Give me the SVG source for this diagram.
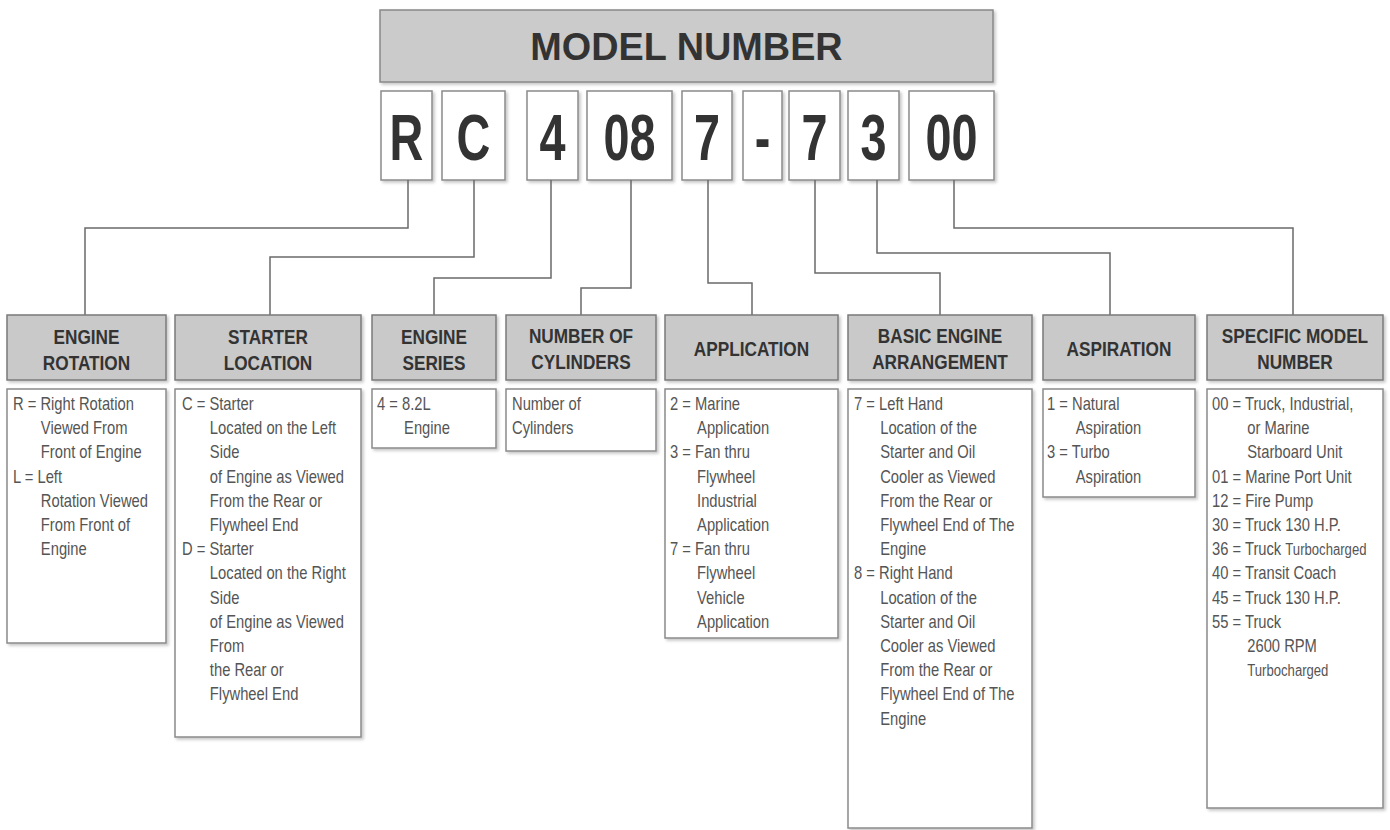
<svg xmlns="http://www.w3.org/2000/svg" width="1390" height="830" viewBox="0 0 1390 830">
<style>
.hdr{fill:#c9c9c9;stroke:#7a7a7a;stroke-width:1.5}
.body{fill:#fff;stroke:#8a8a8a;stroke-width:1.5}
.lbox{fill:#fff;stroke:#8a8a8a;stroke-width:1.5}
.ht{font-family:'Liberation Sans',Arial,sans-serif;font-weight:bold;font-size:21px;fill:#333;text-anchor:middle}
.bt{font-family:'Liberation Sans',Arial,sans-serif;font-size:18px;fill:#555}
.lt{font-family:'Liberation Sans',Arial,sans-serif;font-weight:bold;font-size:65px;fill:#333;text-anchor:middle}
.mt{font-family:'Liberation Sans',Arial,sans-serif;font-weight:bold;font-size:39px;fill:#333;text-anchor:middle}
.conn{fill:none;stroke:#6a6a6a;stroke-width:1.5}
</style>
<defs>
<filter id="sh" x="-10%" y="-10%" width="130%" height="130%">
<feDropShadow dx="2" dy="2" stdDeviation="1.5" flood-color="#000" flood-opacity="0.22"/>
</filter>
</defs>
<rect width="1390" height="830" fill="#fff"/>

<g id="model-number">
<rect class="hdr" x="380" y="10" width="613" height="72" filter="url(#sh)" style="fill:#cbcbcb;stroke:#888"/>
<text class="mt" transform="translate(686.5,60) scale(0.97,1)" x="0" y="0">MODEL NUMBER</text>
</g>

<g id="letters">
<g id="l-R"><rect class="lbox" x="381" y="91" width="51" height="89" filter="url(#sh)"/><text class="lt" transform="translate(406.5,160) scale(0.72,1)">R</text></g>
<g id="l-C"><rect class="lbox" x="442" y="91" width="63" height="89" filter="url(#sh)"/><text class="lt" transform="translate(473.5,160) scale(0.72,1)">C</text></g>
<g id="l-4"><rect class="lbox" x="527" y="91" width="51" height="89" filter="url(#sh)"/><text class="lt" transform="translate(552.5,160) scale(0.72,1)">4</text></g>
<g id="l-08"><rect class="lbox" x="587" y="91" width="85" height="89" filter="url(#sh)"/><text class="lt" transform="translate(629.5,160) scale(0.72,1)">08</text></g>
<g id="l-7a"><rect class="lbox" x="682" y="91" width="50" height="89" filter="url(#sh)"/><text class="lt" transform="translate(707,160) scale(0.72,1)">7</text></g>
<g id="l-dash"><rect class="lbox" x="743" y="91" width="39" height="89" filter="url(#sh)"/><text class="lt" transform="translate(762.5,160) scale(0.72,1)">-</text></g>
<g id="l-7b"><rect class="lbox" x="789" y="91" width="51" height="89" filter="url(#sh)"/><text class="lt" transform="translate(814.5,160) scale(0.72,1)">7</text></g>
<g id="l-3"><rect class="lbox" x="848" y="91" width="51" height="89" filter="url(#sh)"/><text class="lt" transform="translate(873.5,160) scale(0.72,1)">3</text></g>
<g id="l-00"><rect class="lbox" x="909" y="91" width="85" height="89" filter="url(#sh)"/><text class="lt" transform="translate(951.5,160) scale(0.72,1)">00</text></g>
</g>

<g id="connectors">
<polyline class="conn" points="408,180 408,228 85,228 85,315"/>
<polyline class="conn" points="474,180 474,257 270,257 270,315"/>
<polyline class="conn" points="551,180 551,278 434,278 434,315"/>
<polyline class="conn" points="631,180 631,288 581,288 581,315"/>
<polyline class="conn" points="708,180 708,283 752,283 752,315"/>
<polyline class="conn" points="815,180 815,273 940,273 940,315"/>
<polyline class="conn" points="877,180 877,253 1110,253 1110,315"/>
<polyline class="conn" points="954,180 954,228 1293,228 1293,315"/>
</g>

<g id="engine-rotation">
<rect class="hdr" x="7" y="315" width="159" height="65" filter="url(#sh)"/>
<text class="ht" transform="translate(86.5,0) scale(0.82,1)"><tspan x="0" y="344">ENGINE</tspan><tspan x="0" y="370">ROTATION</tspan></text>
<rect class="body" x="7" y="389" width="159" height="254" filter="url(#sh)"/>
<text class="bt" transform="translate(13,0) scale(0.82,1)"><tspan x="0" y="410">R = Right Rotation</tspan><tspan x="34" y="434.2">Viewed From</tspan><tspan x="34" y="458.4">Front of Engine</tspan><tspan x="0" y="482.6">L = Left</tspan><tspan x="34" y="506.8">Rotation Viewed</tspan><tspan x="34" y="531">From Front of</tspan><tspan x="34" y="555.2">Engine</tspan></text>
</g>

<g id="starter-location">
<rect class="hdr" x="175" y="315" width="186" height="65" filter="url(#sh)"/>
<text class="ht" transform="translate(268,0) scale(0.82,1)"><tspan x="0" y="344">STARTER</tspan><tspan x="0" y="370">LOCATION</tspan></text>
<rect class="body" x="175" y="389" width="186" height="348" filter="url(#sh)"/>
<text class="bt" transform="translate(182,0) scale(0.82,1)"><tspan x="0" y="410">C = Starter</tspan><tspan x="34" y="434.2">Located on the Left</tspan><tspan x="34" y="458.4">Side</tspan><tspan x="34" y="482.6">of Engine as Viewed</tspan><tspan x="34" y="506.8">From the Rear or</tspan><tspan x="34" y="531">Flywheel End</tspan><tspan x="0" y="555.2">D = Starter</tspan><tspan x="34" y="579.4">Located on the Right</tspan><tspan x="34" y="603.6">Side</tspan><tspan x="34" y="627.8">of Engine as Viewed</tspan><tspan x="34" y="652">From</tspan><tspan x="34" y="676.2">the Rear or</tspan><tspan x="34" y="700.4">Flywheel End</tspan></text>
</g>

<g id="engine-series">
<rect class="hdr" x="372" y="315" width="124" height="65" filter="url(#sh)"/>
<text class="ht" transform="translate(434,0) scale(0.82,1)"><tspan x="0" y="344">ENGINE</tspan><tspan x="0" y="370">SERIES</tspan></text>
<rect class="body" x="372" y="389" width="124" height="59" filter="url(#sh)"/>
<text class="bt" transform="translate(377,0) scale(0.82,1)"><tspan x="0" y="410">4 = 8.2L</tspan><tspan x="33" y="434.2">Engine</tspan></text>
</g>

<g id="number-of-cylinders">
<rect class="hdr" x="506" y="315" width="150" height="65" filter="url(#sh)"/>
<text class="ht" transform="translate(581,0) scale(0.82,1)"><tspan x="0" y="343">NUMBER OF</tspan><tspan x="0" y="369">CYLINDERS</tspan></text>
<rect class="body" x="506" y="389" width="150" height="62" filter="url(#sh)"/>
<text class="bt" transform="translate(512,0) scale(0.82,1)"><tspan x="0" y="410">Number of</tspan><tspan x="0" y="434.2">Cylinders</tspan></text>
</g>

<g id="application">
<rect class="hdr" x="665" y="315" width="173" height="65" filter="url(#sh)"/>
<text class="ht" transform="translate(751.5,0) scale(0.82,1)"><tspan x="0" y="356">APPLICATION</tspan></text>
<rect class="body" x="665" y="389" width="173" height="249" filter="url(#sh)"/>
<text class="bt" transform="translate(670,0) scale(0.82,1)"><tspan x="0" y="410">2 = Marine</tspan><tspan x="33" y="434.2">Application</tspan><tspan x="0" y="458.4">3 = Fan thru</tspan><tspan x="33" y="482.6">Flywheel</tspan><tspan x="33" y="506.8">Industrial</tspan><tspan x="33" y="531">Application</tspan><tspan x="0" y="555.2">7 = Fan thru</tspan><tspan x="33" y="579.4">Flywheel</tspan><tspan x="33" y="603.6">Vehicle</tspan><tspan x="33" y="627.8">Application</tspan></text>
</g>

<g id="basic-engine-arrangement">
<rect class="hdr" x="848" y="315" width="184" height="65" filter="url(#sh)"/>
<text class="ht" transform="translate(940,0) scale(0.82,1)"><tspan x="0" y="343">BASIC ENGINE</tspan><tspan x="0" y="369">ARRANGEMENT</tspan></text>
<rect class="body" x="848" y="389" width="184" height="439" filter="url(#sh)"/>
<text class="bt" transform="translate(854,0) scale(0.82,1)"><tspan x="0" y="410">7 = Left Hand</tspan><tspan x="32" y="434.2">Location of the</tspan><tspan x="32" y="458.4">Starter and Oil</tspan><tspan x="32" y="482.6">Cooler as Viewed</tspan><tspan x="32" y="506.8">From the Rear or</tspan><tspan x="32" y="531">Flywheel End of The</tspan><tspan x="32" y="555.2">Engine</tspan><tspan x="0" y="579.4">8 = Right Hand</tspan><tspan x="32" y="603.6">Location of the</tspan><tspan x="32" y="627.8">Starter and Oil</tspan><tspan x="32" y="652">Cooler as Viewed</tspan><tspan x="32" y="676.2">From the Rear or</tspan><tspan x="32" y="700.4">Flywheel End of The</tspan><tspan x="32" y="724.6">Engine</tspan></text>
</g>

<g id="aspiration">
<rect class="hdr" x="1043" y="315" width="152" height="65" filter="url(#sh)"/>
<text class="ht" transform="translate(1119,0) scale(0.82,1)"><tspan x="0" y="356">ASPIRATION</tspan></text>
<rect class="body" x="1043" y="389" width="152" height="108" filter="url(#sh)"/>
<text class="bt" transform="translate(1047,0) scale(0.82,1)"><tspan x="0" y="410">1 = Natural</tspan><tspan x="35" y="434.2">Aspiration</tspan><tspan x="0" y="458.4">3 = Turbo</tspan><tspan x="35" y="482.6">Aspiration</tspan></text>
</g>

<g id="specific-model-number">
<rect class="hdr" x="1207" y="315" width="176" height="65" filter="url(#sh)"/>
<text class="ht" transform="translate(1295,0) scale(0.82,1)"><tspan x="0" y="343">SPECIFIC MODEL</tspan><tspan x="0" y="369">NUMBER</tspan></text>
<rect class="body" x="1207" y="389" width="176" height="419" filter="url(#sh)"/>
<text class="bt" transform="translate(1212,0) scale(0.82,1)"><tspan x="0" y="410">00 = Truck, Industrial,</tspan><tspan x="43" y="434.2">or Marine</tspan><tspan x="43" y="458.4">Starboard Unit</tspan><tspan x="0" y="482.6">01 = Marine Port Unit</tspan><tspan x="0" y="506.8">12 = Fire Pump</tspan><tspan x="0" y="531">30 = Truck 130 H.P.</tspan><tspan x="0" y="555.2">36 = Truck <tspan style="font-size:16px">Turbocharged</tspan></tspan><tspan x="0" y="579.4">40 = Transit Coach</tspan><tspan x="0" y="603.6">45 = Truck 130 H.P.</tspan><tspan x="0" y="627.8">55 = Truck</tspan><tspan x="43" y="652">2600 RPM</tspan><tspan x="43" y="676.2" style="font-size:16px">Turbocharged</tspan></text>
</g>
</svg>
